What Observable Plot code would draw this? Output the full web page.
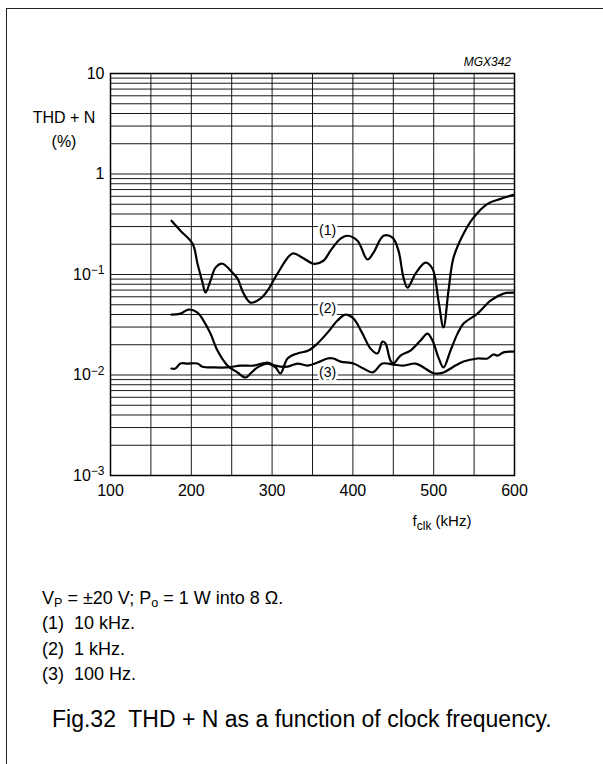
<!DOCTYPE html>
<html>
<head>
<meta charset="utf-8">
<script src="https://cdn.jsdelivr.net/npm/d3@7"></script>
<script src="https://cdn.jsdelivr.net/npm/@observablehq/plot@0.6"></script>
<style>
  html, body { margin: 0; padding: 0; background: #fff; overflow: hidden; }
  body { width: 603px; height: 764px; position: relative; font-family: "Liberation Sans", Arial, sans-serif; color: #000; }
  #frame { position: absolute; left: 6px; top: 8px; width: 700px; height: 900px; border: 1.5px solid #222; box-sizing: border-box; }
  #chart { position: absolute; left: 0; top: 0; }
  .note { position: absolute; left: 42px; font-size: 18px; white-space: pre; line-height: 1; }
  .note sub { font-size: 0.7em; vertical-align: -0.25em; }
  #caption { position: absolute; left: 52px; top: 708px; font-size: 23px; white-space: pre; line-height: 1; }
</style>
</head>
<body>
<div id="frame"></div>
<div id="chart"></div>
<div class="note" style="top:589px">V<sub>P</sub> = ±20 V; P<sub>o</sub> = 1 W into 8 Ω.</div>
<div class="note" style="top:614px">(1)  10 kHz.</div>
<div class="note" style="top:640px">(2)  1 kHz.</div>
<div class="note" style="top:665px">(3)  100 Hz.</div>
<div id="caption">Fig.32  THD + N as a function of clock frequency.</div>
<script>
// ---- data ----
const freq1 = [175.5, 186.6, 201.5, 207.7, 213.9, 217.6, 223.8, 230, 238.6, 251, 257.2, 264.6, 273.3, 285.6, 294.3, 306.7, 325.2, 337.6, 351.2, 363.6, 372.3, 384.7, 393.3, 405.7, 418, 425.5, 437.9, 449, 456.4, 462.6, 467.6, 477.5, 489.9, 498.5, 505.9, 512.1, 518.3, 524.5, 536.9, 549.3, 566.6, 582.7, 598.8];
const thd1  = [0.343, 0.273, 0.203, 0.128, 0.083, 0.066, 0.087, 0.117, 0.128, 0.104, 0.091, 0.065, 0.0525, 0.0575, 0.069, 0.102, 0.162, 0.147, 0.128, 0.137, 0.173, 0.227, 0.243, 0.217, 0.141, 0.165, 0.243, 0.233, 0.173, 0.093, 0.074, 0.102, 0.131, 0.114, 0.055, 0.0297, 0.069, 0.147, 0.255, 0.368, 0.505, 0.566, 0.62];

const freq2 = [175.5, 186.6, 196.5, 207.7, 215.1, 223.8, 232.4, 244.8, 257.2, 267.1, 273.3, 281.9, 294.3, 304.2, 310.4, 319.1, 331.4, 345, 356.2, 368.6, 380.9, 390.8, 400.7, 411.9, 421.8, 430.4, 436.6, 440.3, 446.5, 450.2, 458.9, 471.3, 483.7, 492.3, 498.5, 505.9, 512.1, 520.8, 529.5, 536.9, 554.2, 570.3, 586.4, 598.8];
const thd2  = [0.0399, 0.0408, 0.0448, 0.0418, 0.0348, 0.0258, 0.0175, 0.0124, 0.0106, 0.00944, 0.01035, 0.0119, 0.013, 0.0119, 0.01035, 0.0146, 0.0164, 0.0175, 0.0206, 0.0264, 0.0348, 0.0399, 0.0365, 0.0258, 0.0183, 0.0164, 0.0215, 0.0206, 0.0139, 0.013, 0.0156, 0.0175, 0.022, 0.0258, 0.022, 0.0149, 0.0119, 0.0175, 0.0258, 0.0325, 0.0408, 0.055, 0.0645, 0.066];

const freq3 = [175.5, 180.4, 186.6, 195.3, 207.7, 213.9, 227.5, 244.8, 260.9, 277, 294.3, 304.2, 319.1, 331.4, 343.8, 356.2, 368.6, 376, 384.7, 400.7, 413.1, 424.3, 436.6, 450.2, 462.6, 477.5, 487.4, 499.8, 512.1, 524.5, 536.9, 554.2, 566.6, 574, 579, 586.4, 598.8];
const thd3  = [0.0116, 0.0116, 0.013, 0.013, 0.013, 0.0121, 0.0119, 0.0119, 0.0124, 0.0124, 0.0133, 0.0124, 0.0121, 0.013, 0.0124, 0.0133, 0.0146, 0.0146, 0.0136, 0.013, 0.0116, 0.0106, 0.013, 0.0127, 0.0124, 0.013, 0.0119, 0.0104, 0.0106, 0.0121, 0.0136, 0.0146, 0.0146, 0.016, 0.0156, 0.0168, 0.0171];

const labelText = ["(1)", "(2)", "(3)"];
const labelFreq = [368.6, 368.6, 368.6];
const labelThd  = [0.272, 0.0458, 0.0106];

const xTicks = [100, 200, 300, 400, 500, 600];
const xGrid = [100, 150, 200, 250, 300, 350, 400, 450, 500, 550, 600];
const yTicks = [10, 1, 0.1, 0.01, 0.001];
const yTickBase = ["10", "1", "10", "10", "10"];
const yTickExp  = ["", "", "−1", "−2", "−3"];
const yMantissas = [1, 2, 3, 4, 5, 6, 7, 8, 9];
const yDecades = [0.001, 0.01, 0.1, 1];

// ---- build tables ----
const toRows = (fs, vs, s) => fs.map((f, i) => ({ f, v: vs[i], s }));
const s1 = toRows(freq1, thd1, 1);
const s2 = toRows(freq2, thd2, 2);
const s3 = toRows(freq3, thd3, 3);
const labels = labelText.map((t, i) => ({ t, f: labelFreq[i], v: labelThd[i] }));
const yGrid = [];
yDecades.forEach(d => yMantissas.forEach(m => yGrid.push(+(d * m).toPrecision(3))));
yGrid.push(10);

const chart = Plot.plot({
  width: 603,
  height: 535,
  marginLeft: 110,
  marginRight: 89,
  marginTop: 73,
  marginBottom: 60,
  style: { fontFamily: "'Liberation Sans', Arial, sans-serif", fontSize: "16px", color: "#000", background: "transparent" },
  x: { domain: [100, 600], ticks: xTicks, tickSize: 0, tickPadding: 9, label: null },
  y: { type: "log", domain: [0.001, 10], ticks: yTicks, tickFormat: d => yTicks.indexOf(d), tickSize: 0, tickPadding: 6, label: null },
  marks: [
    Plot.ruleX(xGrid, { stroke: "#000", strokeWidth: 1, strokeOpacity: 0.9 }),
    Plot.ruleY(yGrid, { stroke: "#000", strokeWidth: 1, strokeOpacity: 0.9 }),
    Plot.frame({ stroke: "#000", strokeWidth: 1.5 }),
    Plot.line(s1, { x: "f", y: "v", curve: "catmull-rom", stroke: "#000", strokeWidth: 2.2 }),
    Plot.line(s2, { x: "f", y: "v", curve: "catmull-rom", stroke: "#000", strokeWidth: 2.2 }),
    Plot.line(s3, { x: "f", y: "v", curve: "catmull-rom", stroke: "#000", strokeWidth: 2.2 }),
    Plot.text(labels, { x: "f", y: "v", text: "t", fontSize: 14, fill: "#000", stroke: "#fff", strokeWidth: 5 })
  ]
});
document.getElementById("chart").appendChild(chart);

const svg = d3.select(chart);
// y tick labels with raised exponents
svg.selectAll('g[aria-label="y-axis tick label"] text').each(function () {
  const i = +this.textContent;
  const t = d3.select(this);
  t.text(yTickBase[i]);
  if (yTickExp[i]) {
    t.append("tspan").attr("dy", "-0.45em").attr("font-size", 12).text(yTickExp[i]);
  }
});
// y-axis title
const yt = svg.append("text").attr("text-anchor", "middle").attr("font-size", 16).attr("fill", "#000");
yt.append("tspan").attr("x", 64).attr("y", 123).text("THD + N");
yt.append("tspan").attr("x", 64).attr("y", 147).text("(%)");
// x-axis title
const xt = svg.append("text").attr("x", 442).attr("y", 526).attr("text-anchor", "middle").attr("font-size", 15).attr("fill", "#000");
xt.append("tspan").text("f");
xt.append("tspan").attr("dy", 4).attr("font-size", 12).text("clk");
xt.append("tspan").attr("dy", -4).text(" (kHz)");
// figure code
svg.append("text").attr("x", 511).attr("y", 66).attr("text-anchor", "end")
  .attr("font-size", 12).attr("font-style", "italic").attr("fill", "#000").text("MGX342");
</script>
</body>
</html>
